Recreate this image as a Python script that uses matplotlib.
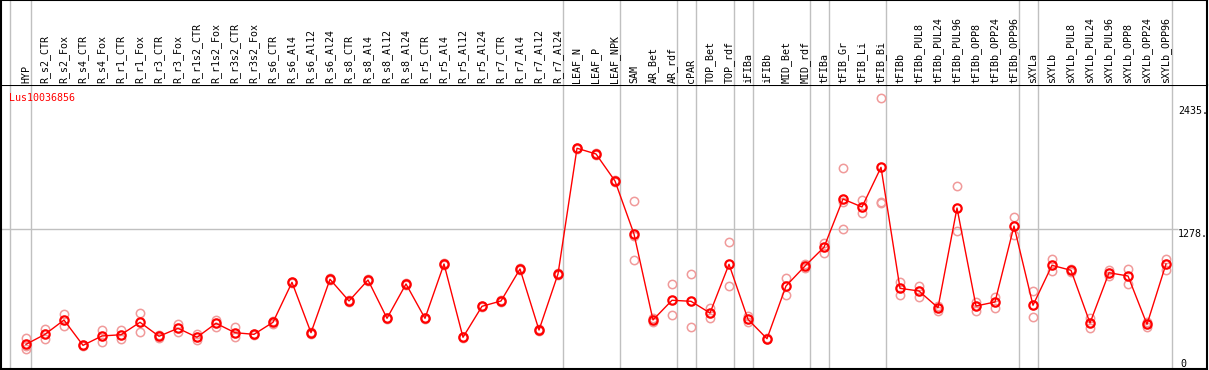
import matplotlib
matplotlib.use("Agg")
import matplotlib.pyplot as plt
from matplotlib.lines import Line2D

# sample labels, left to right
samples = [
    "HYP", "R_s2_CTR", "R_s2_Fox", "R_s4_CTR", "R_s4_Fox", "R_r1_CTR", "R_r1_Fox",
    "R_r3_CTR", "R_r3_Fox", "R_r1s2_CTR", "R_r1s2_Fox", "R_r3s2_CTR", "R_r3s2_Fox",
    "R_s6_CTR", "R_s6_Al4", "R_s6_Al12", "R_s6_Al24", "R_s8_CTR", "R_s8_Al4",
    "R_s8_Al12", "R_s8_Al24", "R_r5_CTR", "R_r5_Al4", "R_r5_Al12", "R_r5_Al24",
    "R_r7_CTR", "R_r7_Al4", "R_r7_Al12", "R_r7_Al24",
    "LEAF_N", "LEAF_P", "LEAF_NPK",
    "SAM", "AR_Bet", "AR_rdf",
    "cPAR",
    "TOP_Bet", "TOP_rdf",
    "iFIBa",
    "iFIBb", "MID_Bet", "MID_rdf",
    "tFIBa",
    "tFIB_Gr", "tFIB_Li", "tFIB_Bi",
    "tFIBb", "tFIBb_PUL8", "tFIBb_PUL24", "tFIBb_PUL96", "tFIBb_OPP8", "tFIBb_OPP24", "tFIBb_OPP96",
    "sXYLa",
    "sXYLb", "sXYLb_PUL8", "sXYLb_PUL24", "sXYLb_PUL96", "sXYLb_OPP8", "sXYLb_OPP24", "sXYLb_OPP96",
]
# how many samples sit in each grey-ruled group
group_sizes = [1, 28, 3, 3, 1, 2, 1, 3, 1, 3, 7, 1, 7]

gene = "Lus10036856"

# mean expression per sample
means = [
    144, 242, 382, 134, 226, 238, 360, 223, 301, 213, 350, 258, 242,
    360, 752, 258, 782, 569, 775, 399, 736, 399, 932, 213, 517,
    569, 883, 284, 834,
    2067, 2011, 1746,
    1226, 383, 576,
    566,
    451, 929,
    389,
    199, 716, 912,
    1096,
    1569, 1491, 1880,
    693, 667, 503, 1481, 520, 559, 1304,
    527,
    919, 870, 353, 846, 814, 340, 932,
]

# individual replicates
reps = [
    [209, 128, 98], [291, 193], [441, 324], [137, 128], [284, 170], [284, 196],
    [448, 265], [235, 206], [343, 268], [245, 186], [383, 311], [311, 213],
    [245, 235], [373, 343], [745, 760], [250, 266], [775, 790], [560, 578],
    [768, 782], [392, 406], [728, 744], [392, 406], [925, 940], [206, 220],
    [510, 524], [562, 576], [876, 890], [277, 291], [827, 841],
    [2060, 2074], [2004, 2018], [1739, 1753],
    [1550, 971, 1206], [366, 402], [736, 429],
    [834, 311],
    [503, 405], [1145, 713],
    [422, 363],
    [206, 196], [791, 631], [932, 893],
    [1141, 1043],
    [1870, 1272, 1543], [1559, 1429], [2560, 1543, 1533],
    [752, 631], [719, 611], [520, 474], [1694, 1259], [562, 474], [611, 503], [1393, 1216],
    [667, 415],
    [981, 866], [883, 854], [399, 307], [873, 814], [883, 736], [366, 311], [978, 873],
]

y_ticks = [0, 1278, 2435]

W, H = 1209, 370
fig = plt.figure(figsize=(W / 100, H / 100), dpi=100)
plt.rcParams['font.family'] = 'DejaVu Sans Mono'

# pixel layout: sample i sits at x = 26 + 19*i
x0, dx = 26.0, 19.0
left_px, right_px = 1, 1207
head_px, bot_px = 85, 369
xl = ((left_px - x0) / dx, (right_px - x0) / dx)
# zero at y=359px, 1278 at y=228.7px
ppu = (359 - 228.7) / 1278.0
yl = ((359 - bot_px) / ppu, (359 - head_px) / ppu)

ax = fig.add_axes([left_px / W, 1 - bot_px / H, (right_px - left_px) / W, (bot_px - head_px) / H])
hx = fig.add_axes([left_px / W, 1 - head_px / H, (right_px - left_px) / W, head_px / H], sharex=ax)

for a in (ax, hx):
    a.set_xticks([])
    a.set_yticks([])
    for s in a.spines.values():
        s.set_color("black")
        s.set_linewidth(1.5)
hx.spines["bottom"].set_visible(False)
ax.set_xlim(*xl)
ax.set_ylim(*yl)
hx.set_ylim(0, 1)

data_right = (1172 - x0) / dx

# grey group separators
edges = [-0.84]
end = -1
for g in group_sizes:
    end += g
    edges.append(end + 0.24)
edges[-1] = data_right
for e in edges:
    ax.axvline(e, color="#c0c0c0", lw=1, zorder=1)
    hx.axvline(e, color="#c0c0c0", lw=1, zorder=1)

ax.hlines(1278, xl[0], data_right + 0.3, color="#c0c0c0", lw=1, zorder=1)

xs = list(range(len(samples)))

# replicates
for i, r in enumerate(reps):
    ax.plot([i] * len(r), r, linestyle="none", marker="o", ms=6, mfc="none",
            mec="#f09a9a", mew=1.1, zorder=2, clip_on=False)

ax.plot(xs, means, color="red", lw=1, zorder=3)
ax.plot(xs, means, linestyle="none", marker="o", ms=6, mfc="none", mec="red",
        mew=1.6, zorder=4)

# sample labels in the header
for i, s in enumerate(samples):
    hx.text(i, 0.025, s, rotation=90, ha="center", va="bottom", fontsize=7.2)

# value labels on the right
tx = (1178 - x0) / dx
ax.text(tx, y_ticks[2], "%d." % y_ticks[2], ha="left", va="center", fontsize=7.2)
ax.text(tx, y_ticks[1], "%d." % y_ticks[1], ha="left", va="top", fontsize=7.2)
ax.text(tx + 0.1, y_ticks[0], "%d" % y_ticks[0], ha="left", va="top", fontsize=7.2)

fig.text(9 / W, 1 - 98 / H, gene, color="red", ha="left", va="center", fontsize=7.2)

fig.savefig("out.png", dpi=100)
